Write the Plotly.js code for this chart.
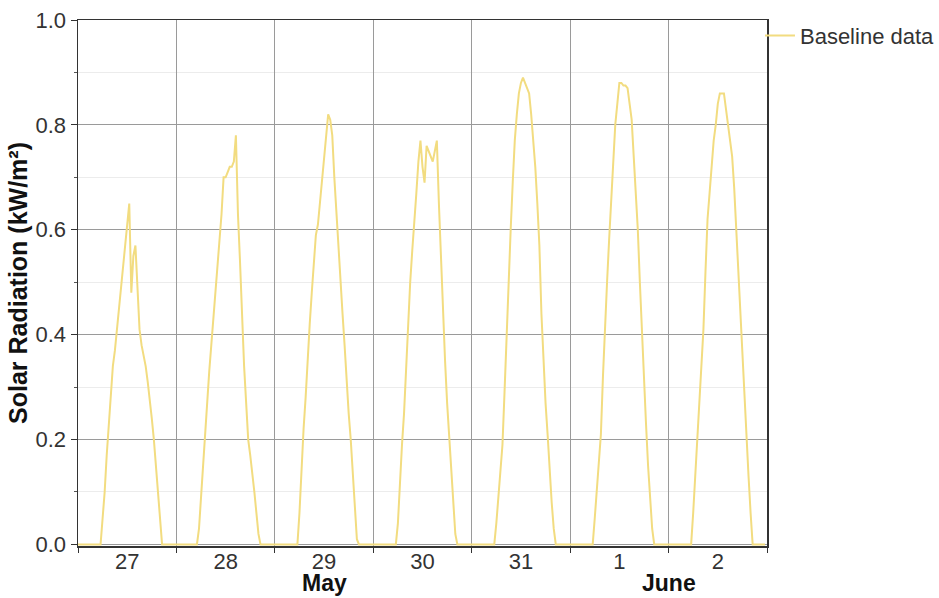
<!DOCTYPE html>
<html>
<head>
<meta charset="utf-8">
<script src="https://cdn.plot.ly/plotly-3.0.1.min.js"></script>
<style>
  html, body { margin: 0; padding: 0; background: #ffffff; }
  #chart { width: 939px; height: 598px; }
</style>
</head>
<body>
<div id="chart"></div>
<script>
// Half-hourly solar radiation (kW/m²), one array of 48 readings per day (00:00 … 23:30)
const days = ["2015-05-27", "2015-05-28", "2015-05-29", "2015-05-30", "2015-05-31", "2015-06-01", "2015-06-02"];

const may27 = [0,0,0,0,0,0,0,0,0,0,0,
  0,0.05,0.10,0.17,0.23,0.30,0.34,0.37,0.41,0.45,0.50,0.54,0.58,0.62,0.65,0.48,0.55,0.57,0.50,0.41,0.38,0.36,0.34,0.31,0.28,0.24,0.20,0.15,0.10,0.05,0,
  0,0,0,0,0,0];
const may28 = [0,0,0,0,0,0,0,0,0,0,0,
  0.03,0.09,0.17,0.22,0.27,0.33,0.38,0.43,0.48,0.53,0.58,0.63,0.70,0.70,0.71,0.72,0.72,0.73,0.78,0.63,0.54,0.42,0.34,0.27,0.20,0.17,0.14,0.10,0.06,0.02,0,
  0,0,0,0,0,0];
const may29 = [0,0,0,0,0,0,0,0,0,0,0,
  0,0.06,0.15,0.22,0.28,0.36,0.42,0.48,0.54,0.59,0.61,0.65,0.69,0.73,0.77,0.82,0.81,0.78,0.70,0.63,0.57,0.50,0.44,0.38,0.31,0.25,0.20,0.13,0.07,0.01,0,
  0,0,0,0,0,0];
const may30 = [0,0,0,0,0,0,0,0,0,0,0,
  0,0.04,0.12,0.19,0.25,0.34,0.43,0.50,0.56,0.61,0.67,0.73,0.77,0.72,0.69,0.76,0.75,0.74,0.73,0.75,0.77,0.65,0.54,0.44,0.35,0.27,0.21,0.14,0.08,0.02,0,
  0,0,0,0,0,0];
const may31 = [0,0,0,0,0,0,0,0,0,0,0,
  0,0.04,0.09,0.14,0.19,0.29,0.40,0.50,0.60,0.69,0.77,0.82,0.86,0.88,0.89,0.88,0.87,0.86,0.82,0.77,0.72,0.65,0.57,0.44,0.34,0.27,0.21,0.14,0.08,0.03,0,
  0,0,0,0,0,0];
const jun01 = [0,0,0,0,0,0,0,0,0,0,0,
  0,0.05,0.10,0.15,0.21,0.32,0.42,0.50,0.58,0.66,0.73,0.80,0.84,0.88,0.88,0.875,0.875,0.87,0.84,0.81,0.74,0.67,0.60,0.50,0.40,0.31,0.23,0.15,0.08,0.03,0,
  0,0,0,0,0,0];
const jun02 = [0,0,0,0,0,0,0,0,0,0,0,
  0,0.06,0.13,0.20,0.27,0.34,0.41,0.52,0.62,0.67,0.72,0.77,0.80,0.84,0.86,0.86,0.86,0.83,0.80,0.77,0.74,0.68,0.60,0.52,0.43,0.35,0.27,0.20,0.13,0.06,0,
  0,0,0,0,0,0];

const dailySeries = [may27, may28, may29, may30, may31, jun01, jun02];

const seriesName = "Baseline data";
const yTitle = "Solar Radiation (kW/m²)";
const monthLabels = ["May", "June"];
const monthCentres = ["2015-05-29 12:00", "2015-06-02 00:00"];

// Build the timestamp/value pairs for the continuous trace
const pad = n => String(n).padStart(2, "0");
const xs = [];
const ys = [];
dailySeries.forEach((vals, d) => {
  vals.forEach((v, i) => {
    const hh = Math.floor(i / 2);
    const mm = (i % 2) * 30;
    xs.push(days[d] + " " + pad(hh) + ":" + pad(mm));
    ys.push(v);
  });
});

const FONT = "Liberation Sans, Arial, sans-serif";

const trace = {
  type: "scatter",
  mode: "lines",
  x: xs,
  y: ys,
  name: seriesName,
  showlegend: true,
  line: { color: "#f2dc80", width: 2 },
  hoverinfo: "skip"
};

const layout = {
  width: 939,
  height: 598,
  paper_bgcolor: "#ffffff",
  plot_bgcolor: "#ffffff",
  // fixed plot frame; the legend sits in the right margin without resizing it
  margin: { l: 78, r: 172, t: 20, b: 52, autoexpand: false },
  font: { family: FONT, color: "#333333", size: 22 },
  showlegend: true,
  legend: {
    x: 0.9898, xanchor: "left",
    y: 1.01, yanchor: "top",
    font: { family: FONT, size: 22, color: "#333333" },
    bgcolor: "rgba(0,0,0,0)",
    borderwidth: 0,
    itemwidth: 30
  },
  xaxis: {
    type: "date",
    range: ["2015-05-27 00:00", "2015-06-03 00:00"],
    tick0: "2015-05-27",
    dtick: 86400000,
    ticklabelmode: "period",
    tickformat: "%-d",
    showgrid: true,
    gridcolor: "#9a9a9a",
    gridwidth: 1,
    ticks: "outside",
    ticklen: 5,
    tickcolor: "#333333",
    ticklabelstandoff: -10,
    showline: true,
    linecolor: "#333333",
    linewidth: 1.5,
    mirror: true,
    zeroline: false,
    tickfont: { family: FONT, size: 22, color: "#333333" }
  },
  yaxis: {
    range: [-0.003, 1.0],
    tick0: 0,
    dtick: 0.2,
    tickformat: ".1f",
    showgrid: true,
    gridcolor: "#9a9a9a",
    gridwidth: 1,
    ticks: "outside",
    ticklen: 6,
    tickcolor: "#333333",
    showline: true,
    linecolor: "#333333",
    linewidth: 1.5,
    mirror: true,
    zeroline: false,
    tickfont: { family: FONT, size: 22, color: "#333333" },
    minor: {
      dtick: 0.1,
      showgrid: true,
      gridcolor: "#ececec",
      ticks: "outside",
      ticklen: 3,
      tickcolor: "#555555"
    },
    title: {
      text: yTitle,
      font: { family: FONT, size: 25, color: "#111111", weight: "bold" },
      standoff: 1
    }
  },
  annotations: monthLabels.map((m, i) => ({
    text: "<b>" + m + "</b>",
    x: monthCentres[i],
    xref: "x",
    y: -0.071,
    yref: "paper",
    xanchor: "center",
    yanchor: "middle",
    showarrow: false,
    font: { family: FONT, size: 23, color: "#111111" }
  }))
};

Plotly.newPlot("chart", [trace], layout, { staticPlot: true, displayModeBar: false });
</script>
</body>
</html>
